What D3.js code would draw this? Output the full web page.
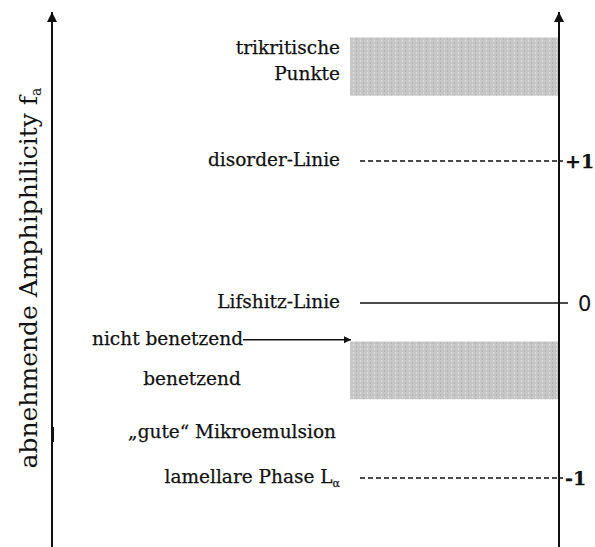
<!DOCTYPE html>
<html>
<head>
<meta charset="utf-8">
<script src="https://cdn.jsdelivr.net/npm/d3@7"></script>
<style>
  body { margin: 0; background: #fff; }
  text { font-family: "DejaVu Serif", "Liberation Serif", serif; fill: #111; stroke: #111; stroke-width: 0.25px; }
</style>
</head>
<body>
<div id="chart"></div>
<script>
// chart values (f_a scale)
const lineLabels = ["disorder-Linie", "Lifshitz-Linie", "lamellare Phase L"];
const lineValues = [1, 0, -1];
const tickLabels = ["+1", "0", "-1"];

const bandLabels = [["trikritische", "Punkte"], []];
const bandTop = [1.87, -0.22];
const bandBottom = [1.46, -0.55];

const noteLabels = ["nicht benetzend", "benetzend", "\u201egute\u201c Mikroemulsion"];
const noteValues = [-0.21, -0.44, -0.74];

const width = 595, height = 547;
const fs = "18.5px";

const svg = d3.select("#chart")
  .append("svg")
  .attr("width", width)
  .attr("height", height);

// piecewise f_a -> pixel scale (spacing is not even in the picture)
const y = d3.scaleLinear()
  .domain([-1, 0, 1])
  .range([478, 303, 161]);

const xLeft = 52, xRight = 559, xBand = 350, xLine = 360, xText = 340;

const defs = svg.append("defs");
defs.append("marker")
  .attr("id", "head")
  .attr("viewBox", "0 0 10 10")
  .attr("refX", 10).attr("refY", 5)
  .attr("markerWidth", 5).attr("markerHeight", 5)
  .attr("markerUnits", "strokeWidth")
  .attr("orient", "auto")
  .append("path").attr("d", "M0,0L10,5L0,10z").attr("fill", "#111");

const pat = defs.append("pattern")
  .attr("id", "grain")
  .attr("width", 7).attr("height", 4)
  .attr("patternUnits", "userSpaceOnUse");
pat.append("rect").attr("width", 7).attr("height", 4).attr("fill", "#c6c6c6");
pat.append("rect").attr("x", 3).attr("width", 1).attr("height", 2).attr("fill", "#dcdcdc");
pat.append("rect").attr("x", 6).attr("y", 2).attr("width", 1).attr("height", 2).attr("fill", "#b4b4b4");

// bands
svg.selectAll(".band")
  .data(bandTop)
  .enter()
  .append("rect")
    .attr("class", "band")
    .attr("x", xBand)
    .attr("y", (d) => y(d))
    .attr("width", xRight - xBand)
    .attr("height", (d, i) => y(bandBottom[i]) - y(d))
    .attr("fill", "url(#grain)");

bandLabels.forEach((lines, i) => {
  lines.forEach((t, j) => {
    svg.append("text")
      .attr("x", xText)
      .attr("y", y(bandTop[i]) + 17 + j * 26)
      .attr("text-anchor", "end")
      .attr("font-size", fs)
      .text(t);
  });
});

// axes
const yTop = y.invert(10), yBottom = y.invert(height);
[xLeft, xRight].forEach((x) => {
  svg.append("line")
    .attr("x1", x).attr("x2", x)
    .attr("y1", y(yBottom)).attr("y2", y(yTop) + 2)
    .attr("stroke", "#111")
    .attr("stroke-width", 2)
    .attr("marker-end", "url(#head)");
});
svg.append("rect")
  .attr("x", xLeft).attr("y", 427).attr("width", 2).attr("height", 15).attr("fill", "#111");

// level lines
svg.selectAll(".level")
  .data(lineValues)
  .enter()
  .append("line")
    .attr("class", "level")
    .attr("x1", xLine)
    .attr("x2", (d, i) => tickLabels[i] === "0" ? 568 : 563)
    .attr("y1", (d) => y(d))
    .attr("y2", (d) => y(d))
    .attr("stroke", "#111")
    .attr("stroke-width", 1.5)
    .attr("stroke-dasharray", (d) => d === 0 ? null : "5,3");

svg.selectAll(".tick")
  .data(lineValues)
  .enter()
  .append("text")
    .attr("class", "tick")
    .attr("x", (d) => d === 0 ? 578 : 565)
    .attr("y", (d) => y(d) + (d === 0 ? 8 : 7))
    .attr("font-size", (d) => d === 0 ? "21px" : "19px")
    .style("font-family", (d) => d === 0 ? "'DejaVu Sans', sans-serif" : null)
    .style("font-weight", (d) => d === 0 ? null : "bold")
    .style("stroke-width", (d) => d === 0 ? 0 : null)
    .text((d, i) => tickLabels[i]);

svg.selectAll(".lineLabel")
  .data(lineValues)
  .enter()
  .append("text")
    .attr("class", "lineLabel")
    .attr("x", xText)
    .attr("y", (d) => y(d) + 5)
    .attr("text-anchor", "end")
    .attr("font-size", fs)
    .each(function(d, i) {
      const t = d3.select(this);
      t.append("tspan").text(lineLabels[i]);
      if (d === -1) {
        t.append("tspan").attr("font-size", "11px").attr("dy", 4).text("\u03b1");
      }
    });

// notes
svg.append("text")
  .attr("x", 243).attr("y", y(noteValues[0]) + 5)
  .attr("text-anchor", "end").attr("font-size", fs)
  .text(noteLabels[0]);
svg.append("line")
  .attr("x1", 243).attr("x2", 351)
  .attr("y1", y(noteValues[0])).attr("y2", y(noteValues[0]))
  .attr("stroke", "#111").attr("stroke-width", 1.5)
  .attr("marker-end", "url(#head)");
svg.append("text")
  .attr("x", 192).attr("y", y(noteValues[1]) + 5)
  .attr("text-anchor", "middle").attr("font-size", fs)
  .text(noteLabels[1]);
svg.append("text")
  .attr("x", 232).attr("y", y(noteValues[2]) + 5)
  .attr("text-anchor", "middle").attr("font-size", fs)
  .text(noteLabels[2]);

// axis title
const title = svg.append("text")
  .attr("transform", `translate(37,278) rotate(-90)`)
  .attr("text-anchor", "middle")
  .attr("font-size", "25px")
  .style("stroke-width", 0);
title.append("tspan").text("abnehmende Amphiphilicity f");
title.append("tspan").attr("font-size", "14px").attr("dy", 4).text("a");
</script>
</body>
</html>
